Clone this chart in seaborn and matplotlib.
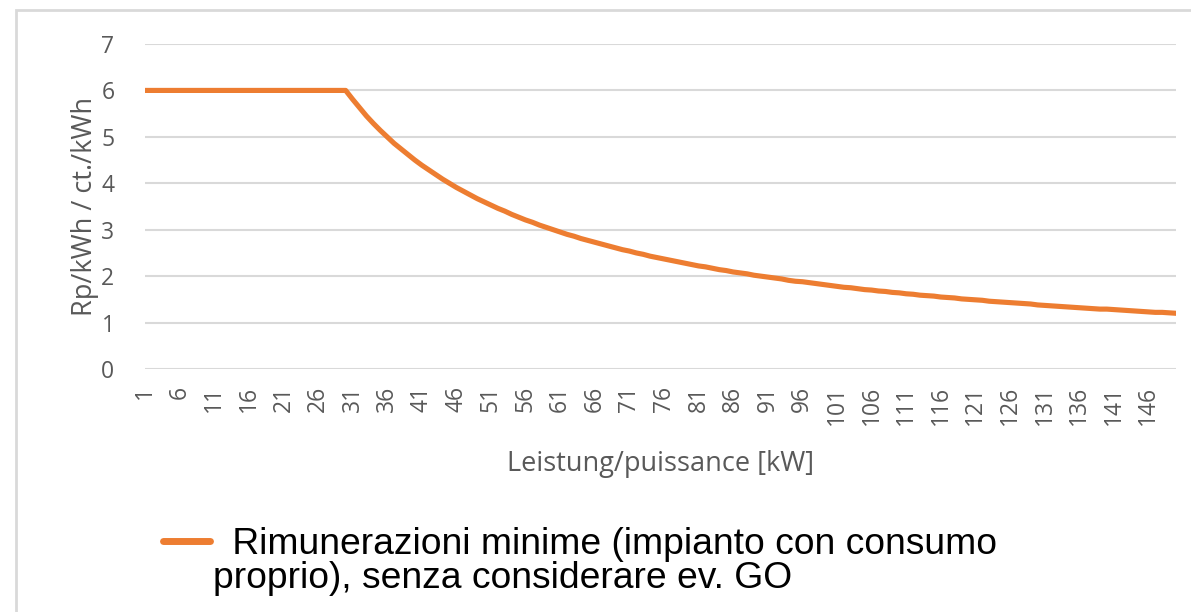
import numpy as np
import matplotlib
matplotlib.use("Agg")
import matplotlib.pyplot as plt
import seaborn as sns
from matplotlib.lines import Line2D
from matplotlib.patches import Rectangle

# power in kW (one category per kW)
leistung = list(range(1, 151))

# minimum remuneration in Rp/kWh
rimunerazione = [
    6.00, 6.00, 6.00, 6.00, 6.00, 6.00, 6.00, 6.00, 6.00, 6.00,
    6.00, 6.00, 6.00, 6.00, 6.00, 6.00, 6.00, 6.00, 6.00, 6.00,
    6.00, 6.00, 6.00, 6.00, 6.00, 6.00, 6.00, 6.00, 6.00, 6.00,
    5.81, 5.63, 5.45, 5.29, 5.14, 5.00, 4.86, 4.74, 4.62, 4.50,
    4.39, 4.29, 4.19, 4.09, 4.00, 3.91, 3.83, 3.75, 3.67, 3.60,
    3.53, 3.46, 3.40, 3.33, 3.27, 3.21, 3.16, 3.10, 3.05, 3.00,
    2.95, 2.90, 2.86, 2.81, 2.77, 2.73, 2.69, 2.65, 2.61, 2.57,
    2.54, 2.50, 2.47, 2.43, 2.40, 2.37, 2.34, 2.31, 2.28, 2.25,
    2.22, 2.20, 2.17, 2.14, 2.12, 2.09, 2.07, 2.05, 2.02, 2.00,
    1.98, 1.96, 1.94, 1.91, 1.89, 1.88, 1.86, 1.84, 1.82, 1.80,
    1.78, 1.76, 1.75, 1.73, 1.71, 1.70, 1.68, 1.67, 1.65, 1.64,
    1.62, 1.61, 1.59, 1.58, 1.57, 1.55, 1.54, 1.53, 1.51, 1.50,
    1.49, 1.48, 1.46, 1.45, 1.44, 1.43, 1.42, 1.41, 1.40, 1.38,
    1.37, 1.36, 1.35, 1.34, 1.33, 1.32, 1.31, 1.30, 1.29, 1.29,
    1.28, 1.27, 1.26, 1.25, 1.24, 1.23, 1.22, 1.22, 1.21, 1.20,
]

x_ticks = list(range(1, 150, 5))
y_ticks = [0, 1, 2, 3, 4, 5, 6, 7]

legend_line1 = " Rimunerazioni minime (impianto con consumo"
legend_line2 = "proprio), senza considerare ev. GO"

sns.set_style("white")
plt.rcParams["font.family"] = ["Open Sans", "DejaVu Sans"]

grey = "#595959"
orange = "#ED7D31"

fig = plt.figure(figsize=(11.91, 6.12), dpi=100)
ax = fig.add_axes([145 / 1191, 1 - 369 / 612, (1176 - 145) / 1191, (369 - 44) / 612])

sns.lineplot(x=leistung, y=rimunerazione, ax=ax, color=orange, linewidth=3.7,
             solid_capstyle="round", legend=False)

ax.set_xlim(1, 150)
ax.set_ylim(0, 7)
ax.set_xticks(x_ticks)
ax.set_xticklabels([str(t) for t in x_ticks], rotation=90, color=grey, fontsize=16.5)
ax.set_yticks(y_ticks)
ax.set_yticklabels([str(t) for t in y_ticks], color=grey, fontsize=16.5)
ax.tick_params(axis="y", length=0, pad=22)
ax.tick_params(axis="x", length=0, pad=12)
ax.yaxis.grid(True, color="#d9d9d9", linewidth=1.5)
ax.set_axisbelow(True)
for s in ax.spines.values():
    s.set_visible(False)

ax.set_xlabel("Leistung/puissance [kW]", color=grey, fontsize=19.5, labelpad=18)
ax.set_ylabel("Rp/kWh / ct./kWh", color=grey, fontsize=19.5, labelpad=2)

# chart border
fig.add_artist(Rectangle((16 / 1191, -0.1), 1.2, 1 - 10 / 612 + 0.1,
                         transform=fig.transFigure, fill=False,
                         edgecolor="#d9d9d9", linewidth=2))

# legend
fig.add_artist(Line2D([163 / 1191, 210 / 1191], [1 - 541 / 612, 1 - 541 / 612],
                      transform=fig.transFigure, color=orange, linewidth=5))
fig.text(222 / 1191, 1 - 545 / 612, legend_line1, family="Liberation Sans",
         fontsize=26.8, color="black", va="center", ha="left")
fig.text(213 / 1191, 1 - 578 / 612, legend_line2, family="Liberation Sans",
         fontsize=26.8, color="black", va="center", ha="left")

fig.savefig("out.png", dpi=100)
